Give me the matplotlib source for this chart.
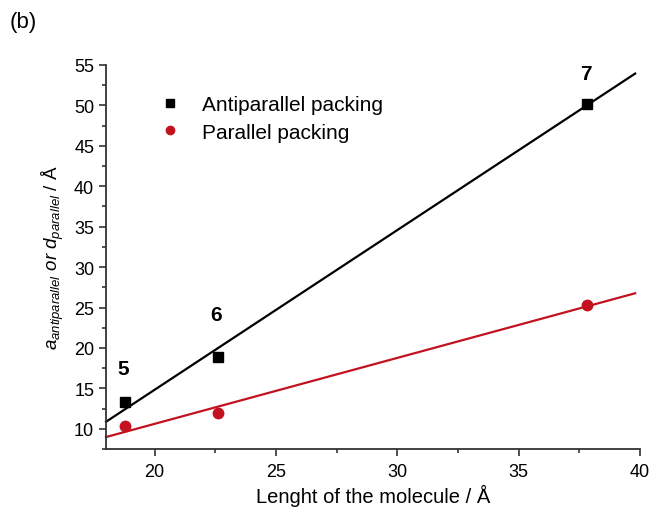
import numpy as np
import matplotlib.pyplot as plt
from matplotlib.ticker import MultipleLocator

plt.rcParams['font.family'] = ['Liberation Sans', 'DejaVu Sans']
plt.rcParams['mathtext.fontset'] = 'custom'
plt.rcParams['mathtext.it'] = 'Liberation Sans:italic'
plt.rcParams['mathtext.rm'] = 'Liberation Sans'

# molecule length (A) and packing distances (A)
length = [18.8, 22.6, 37.8]
antiparallel = [13.3, 18.9, 50.2]
parallel = [10.3, 11.9, 25.3]
labels = ['5', '6', '7']
label_xy = [(18.7, 17.4), (22.55, 24.1), (37.75, 53.9)]
fit_range = [18, 39.8]

red = '#c2121f'

fig = plt.figure(figsize=(6.52, 5.10), dpi=100)
ax = fig.add_axes([0.1626, 0.1176, 0.819, 0.753])

# linear fits
xfit = np.array(fit_range)
pa = np.polyfit(length, antiparallel, 1)
pp = np.polyfit(length, parallel, 1)
ax.plot(xfit, np.polyval(pa, xfit), color='black', lw=1.6, clip_on=False)
ax.plot(xfit, np.polyval(pp, xfit), color=red, lw=1.6, clip_on=False)

ax.plot(length, antiparallel, 's', color='black', ms=7, label='Antiparallel packing')
ax.plot(length, parallel, 'o', color=red, ms=7.5, label='Parallel packing')

for t, (x, y) in zip(labels, label_xy):
    ax.text(x, y, t, fontsize=15, fontweight='bold', ha='center', va='center')

ax.set_xlim(18, 40)
ax.set_ylim(7.5, 55)
ax.xaxis.set_minor_locator(MultipleLocator(2.5))
ax.yaxis.set_minor_locator(MultipleLocator(2.5))
ax.set_xticks([20, 25, 30, 35, 40])
ax.set_yticks([10, 15, 20, 25, 30, 35, 40, 45, 50, 55])
ax.tick_params(which='both', direction='out', labelsize=13, width=1.2, color='#333333')
ax.tick_params(which='major', length=5)
ax.tick_params(which='minor', length=3)
ax.tick_params(axis='x', pad=5)

for s in ['top', 'right']:
    ax.spines[s].set_visible(False)
for s in ['left', 'bottom']:
    ax.spines[s].set_linewidth(1.3)
    ax.spines[s].set_color('#333333')

ax.set_xlabel('Lenght of the molecule / Å', fontsize=14.5, labelpad=3)
ax.set_ylabel(r'$a_{antiparallel}$ $or$ $d_{parallel}$ / Å', fontsize=13.5, labelpad=6)

leg = ax.legend(loc='upper left', bbox_to_anchor=(0.055, 0.97), frameon=False,
                fontsize=15, handletextpad=0.8, labelspacing=0.4, handlelength=1.5,
                markerscale=0.8)

fig.text(0.015, 0.955, '(b)', fontsize=16, va='center')

fig.savefig('out.png', dpi=100)
